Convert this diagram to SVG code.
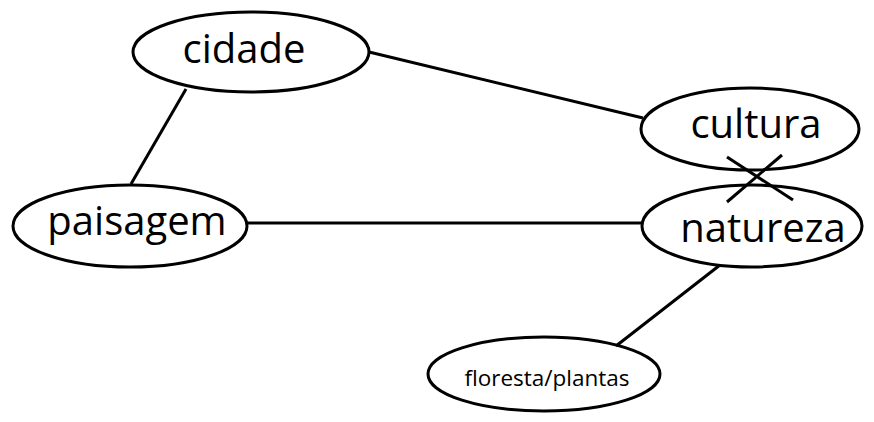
<svg xmlns="http://www.w3.org/2000/svg" width="874" height="422" viewBox="0 0 874 422">
<style>
.n ellipse{fill:#fff;stroke:#000;stroke-width:3}
.n text{font-family:"Open Sans","Noto Sans",sans-serif;fill:#000;text-anchor:middle}
.big{font-size:40px}
.small{font-size:22.5px}
#edges line{stroke:#000;stroke-width:3}
</style>
<rect width="874" height="422" fill="#fff"/>
<g id="cidade" class="n"><ellipse cx="251" cy="52" rx="118" ry="40"/><text class="big" x="244" y="63">cidade</text></g>
<g id="cultura" class="n"><ellipse cx="750" cy="129" rx="109" ry="41"/><text class="big" x="756" y="138">cultura</text></g>
<g id="natureza" class="n"><ellipse cx="752" cy="226" rx="110" ry="41"/><text class="big" x="763" y="242">natureza</text></g>
<g id="paisagem" class="n"><ellipse cx="130" cy="226" rx="117" ry="41"/><text class="big" x="137" y="235">paisagem</text></g>
<g id="floresta" class="n"><ellipse cx="544" cy="374" rx="116" ry="37"/><text class="small" x="547" y="386">floresta/plantas</text></g>
<g id="edges">
<line x1="369" y1="52" x2="643" y2="118"/>
<line x1="186" y1="89" x2="131" y2="184"/>
<line x1="247" y1="223" x2="643" y2="223"/>
<line x1="720" y1="265" x2="616" y2="346"/>
<line x1="727" y1="157" x2="793" y2="200"/>
<line x1="782" y1="155" x2="727" y2="202"/>
</g>
</svg>
